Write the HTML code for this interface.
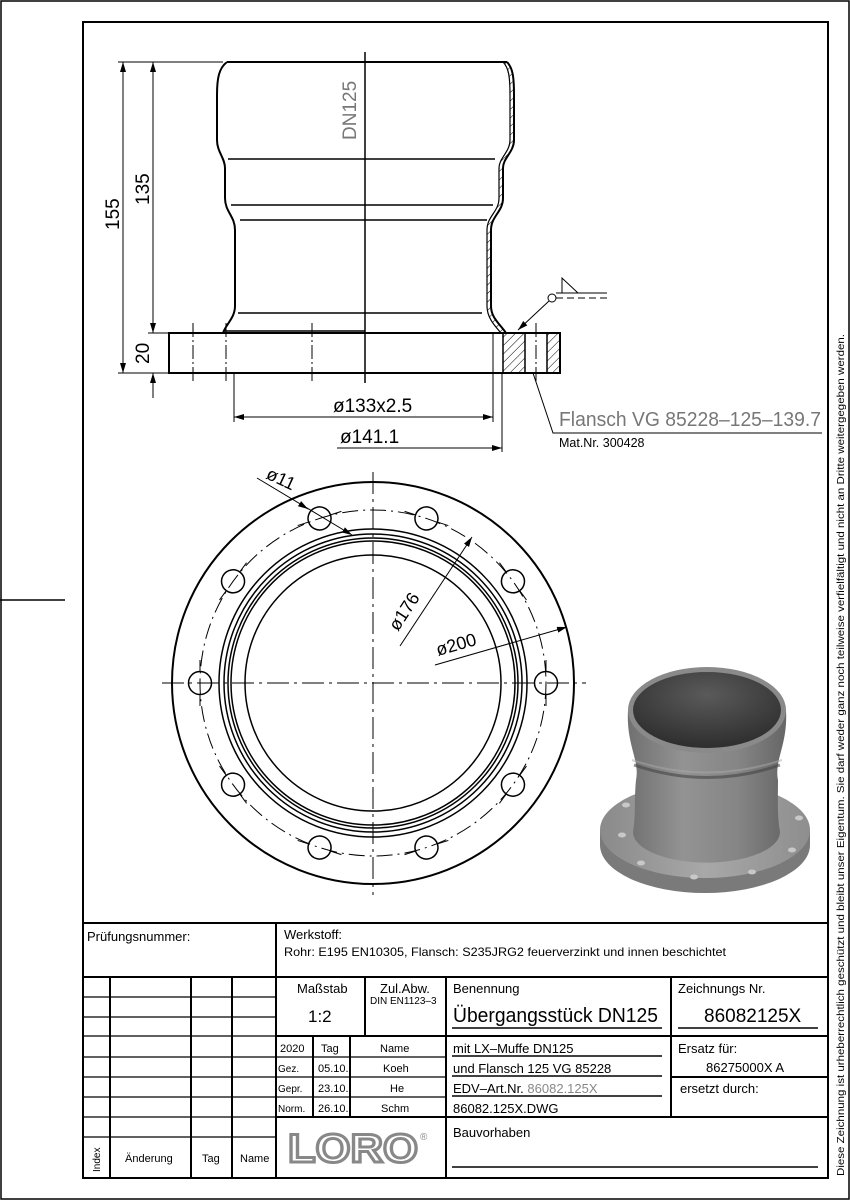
<!DOCTYPE html>
<html><head><meta charset="utf-8"><style>
html,body{margin:0;padding:0;background:#fff}
svg{display:block}
text{font-family:"Liberation Sans",sans-serif}
</style></head><body>
<svg width="850" height="1200" viewBox="0 0 850 1200" xmlns="http://www.w3.org/2000/svg">
<defs>
<pattern id="h" width="6" height="6" patternUnits="userSpaceOnUse" patternTransform="rotate(45)"><line x1="0" y1="0" x2="0" y2="6" stroke="#000" stroke-width="1"/></pattern>
<marker id="a" viewBox="0 0 10 6" refX="10" refY="3" markerWidth="10" markerHeight="6" orient="auto-start-reverse" markerUnits="userSpaceOnUse"><path d="M0,0 L10,3 L0,6z" fill="#000"/></marker>
<radialGradient id="g1" cx="0.5" cy="0.3" r="0.7"><stop offset="0" stop-color="#5a5a5a"/><stop offset="1" stop-color="#2e2e2e"/></radialGradient>
<linearGradient id="g2" x1="0" x2="1"><stop offset="0" stop-color="#707070"/><stop offset="0.35" stop-color="#939393"/><stop offset="0.7" stop-color="#858585"/><stop offset="1" stop-color="#666"/></linearGradient>
<linearGradient id="g3" x1="0" x2="1"><stop offset="0" stop-color="#8a8a8a"/><stop offset="0.5" stop-color="#a8a8a8"/><stop offset="1" stop-color="#8e8e8e"/></linearGradient>
</defs>
<rect x="1" y="1" width="848" height="1198" fill="none" stroke="#000" stroke-width="1.5"/>
<rect x="83" y="22" width="745" height="1156" fill="none" stroke="#000" stroke-width="2"/>
<line x1="0" y1="600" x2="65" y2="600" stroke="#000" stroke-width="1.5"/>

<!-- side view -->
<g fill="none" stroke="#000">
<line x1="118" y1="62" x2="223" y2="62" stroke-width="1"/>
<line x1="118" y1="373" x2="169" y2="373" stroke-width="1"/>
<line x1="148" y1="333" x2="169" y2="333" stroke-width="1"/>
<line x1="123" y1="62" x2="123" y2="373" stroke-width="1" marker-start="url(#a)" marker-end="url(#a)"/>
<line x1="153" y1="62" x2="153" y2="333" stroke-width="1" marker-start="url(#a)" marker-end="url(#a)"/>
<line x1="153" y1="373" x2="153" y2="398" stroke-width="1" marker-start="url(#a)"/>
<path d="M227,62 L507,62" stroke-width="2"/>
<path d="M227,62 C219,68 217,78 217,95 L217,140 C217,152 225,158 225,168 L225,198 C225,212 235,216 235,230 L235,306 C235,318 226,324 223,333" stroke-width="2"/>
<path d="M507,62 C513,68 514,78 514,95 L514,140 C514,152 503,158 503,168 L503,198 C503,212 491,216 491,230 L491,306 C491,318 500,324 506,333" stroke-width="2"/>
<path d="M503,62 C509,68 510,78 510,95 L510,140 C510,152 499,158 499,168 L499,198 C499,212 487,216 487,230 L487,306 C487,318 495,326 501,333" stroke-width="1.2"/>
<path d="M503,62 C509,68 510,78 510,95 L510,140 C510,152 499,158 499,168 L499,198 C499,212 487,216 487,230 L487,306 C487,318 495,326 501,333 L506,333 C500,324 491,318 491,306 L491,230 C491,216 503,212 503,198 L503,168 C503,158 514,152 514,140 L514,95 C514,78 513,68 507,62z" fill="url(#h)" stroke="none"/>
<line x1="228" y1="159" x2="495" y2="159" stroke-width="1.5"/>
<line x1="231" y1="205" x2="493" y2="205" stroke-width="1.5"/>
<line x1="240" y1="220" x2="487" y2="220" stroke-width="1.5"/>
<line x1="238" y1="313" x2="482" y2="313" stroke-width="1.5"/>
<line x1="223" y1="331" x2="365" y2="331" stroke-width="1.5"/>
<rect x="169" y="333" width="391" height="40" stroke-width="2"/>
<rect x="503" y="333" width="22" height="40" fill="url(#h)" stroke-width="1.5"/>
<rect x="547" y="333" width="13" height="40" fill="url(#h)" stroke-width="1.5"/>
<line x1="365" y1="52" x2="365" y2="383" stroke-width="1.5"/>
<line x1="193" y1="323" x2="193" y2="383" stroke-width="1" stroke-dasharray="14,3,2,3"/>
<line x1="226" y1="323" x2="226" y2="383" stroke-width="1" stroke-dasharray="14,3,2,3"/>
<line x1="312" y1="323" x2="312" y2="383" stroke-width="1" stroke-dasharray="14,3,2,3"/>
<line x1="536" y1="323" x2="536" y2="383" stroke-width="1" stroke-dasharray="14,3,2,3"/>
<line x1="234" y1="373" x2="234" y2="422" stroke-width="1"/>
<line x1="493" y1="333" x2="493" y2="422" stroke-width="1"/>
<line x1="502" y1="373" x2="502" y2="452" stroke-width="1"/>
<line x1="234" y1="417" x2="493" y2="417" stroke-width="1" marker-start="url(#a)" marker-end="url(#a)"/>
<line x1="337" y1="448" x2="502" y2="448" stroke-width="1" marker-end="url(#a)"/>
<circle cx="552" cy="298" r="4" stroke-width="1"/>
<line x1="556" y1="298" x2="607" y2="298" stroke-width="1" stroke-dasharray="7,4"/>
<line x1="556" y1="293" x2="607" y2="293" stroke-width="1"/>
<path d="M562,293 L562,278 L578,293" stroke-width="1"/>
<line x1="549" y1="301" x2="518" y2="330" stroke-width="1" marker-end="url(#a)"/>
<path d="M533,373 L553,433 L822,433" stroke-width="1"/>
</g>
<g font-size="19">
<text transform="translate(119,230) rotate(-90)">155</text>
<text transform="translate(149,205) rotate(-90)">135</text>
<text transform="translate(149,364) rotate(-90)">20</text>
<text transform="translate(356,140) rotate(-90)" fill="#777">DN125</text>
<text x="333" y="412">ø133x2.5</text>
<text x="340" y="443">ø141.1</text>
</g>
<text x="559" y="426" font-size="20" fill="#777" textLength="262" lengthAdjust="spacingAndGlyphs">Flansch VG 85228–125–139.7</text>
<text x="559" y="447" font-size="12.5">Mat.Nr. 300428</text>

<!-- round view -->
<g fill="none" stroke="#000" stroke-width="1.5">
<circle cx="373" cy="683" r="201" stroke-width="2"/>
<circle cx="373" cy="683" r="154"/>
<circle cx="373" cy="683" r="149"/>
<circle cx="373" cy="683" r="145"/>
<circle cx="373" cy="683" r="142"/>
<circle cx="373" cy="683" r="128"/>
<circle cx="373" cy="683" r="173" stroke-width="1" stroke-dasharray="16,5,2,5"/>
<line x1="162" y1="683" x2="586" y2="683" stroke-width="1" stroke-dasharray="22,5,3,5"/>
<line x1="373" y1="472" x2="373" y2="895" stroke-width="1" stroke-dasharray="22,5,3,5"/>
<g id="hole">
<circle cx="546" cy="683" r="11.5"/>
<line x1="546" y1="671" x2="546" y2="660" stroke-width="1"/><line x1="546" y1="695" x2="546" y2="706" stroke-width="1"/>
</g>
<use href="#hole" transform="rotate(36 373 683)"/>
<use href="#hole" transform="rotate(72 373 683)"/>
<use href="#hole" transform="rotate(108 373 683)"/>
<use href="#hole" transform="rotate(144 373 683)"/>
<use href="#hole" transform="rotate(180 373 683)"/>
<use href="#hole" transform="rotate(216 373 683)"/>
<use href="#hole" transform="rotate(252 373 683)"/>
<use href="#hole" transform="rotate(288 373 683)"/>
<use href="#hole" transform="rotate(324 373 683)"/>
<line x1="257" y1="478" x2="352" y2="535" stroke-width="1" marker-end="url(#a)"/>
<line x1="300" y1="504" x2="308" y2="509" stroke-width="1" marker-end="url(#a)"/>
<line x1="400" y1="646" x2="472" y2="537" stroke-width="1" marker-end="url(#a)"/>
<line x1="435" y1="665" x2="567" y2="627" stroke-width="1" marker-end="url(#a)"/>
</g>
<g font-size="18">
<text transform="translate(265,478) rotate(25)">ø11</text>
<text transform="translate(398,632) rotate(-57)">ø176</text>
<text transform="translate(438,656) rotate(-16)">ø200</text>
</g>

<!-- 3D render -->
<g>
<path d="M600,830 L600,845 A105,48 0 0 0 810,845 L810,830z" fill="#7a7a7a"/>
<ellipse cx="705" cy="830" rx="105" ry="48" fill="url(#g3)"/>
<path d="M628,710 C626,745 640,760 636,780 C634,800 636,815 633,832 A72,30 0 0 0 780,832 C777,815 778,800 778,780 C774,760 788,745 786,710z" fill="url(#g2)"/>
<path d="M634,765 Q707,790 780,765" stroke="#444" stroke-width="3" fill="none" opacity="0.6"/>
<path d="M632,760 Q707,785 782,760" stroke="#aaa" stroke-width="2" fill="none" opacity="0.5"/>
<ellipse cx="707" cy="710" rx="79" ry="43" fill="#8a8a8a"/>
<ellipse cx="707" cy="710" rx="74" ry="38" fill="url(#g1)"/>
<g fill="#c8c8c8"><ellipse cx="622" cy="835" rx="4" ry="2.5"/><ellipse cx="641" cy="863" rx="4" ry="2.5"/><ellipse cx="694" cy="877" rx="4" ry="2.5"/><ellipse cx="752" cy="872" rx="4" ry="2.5"/><ellipse cx="792" cy="850" rx="4" ry="2.5"/><ellipse cx="799" cy="818" rx="4" ry="2.5"/><ellipse cx="626" cy="805" rx="4" ry="2.5"/></g>
</g>

<!-- title block -->
<g fill="none" stroke="#000" stroke-width="2">
<line x1="83" y1="923" x2="828" y2="923"/>
<line x1="83" y1="977" x2="828" y2="977"/>
<line x1="276" y1="923" x2="276" y2="1178"/>
<line x1="110" y1="977" x2="110" y2="1178"/>
<line x1="191" y1="977" x2="191" y2="1178"/>
<line x1="232" y1="977" x2="232" y2="1178"/>
<line x1="365" y1="977" x2="365" y2="1036"/>
<line x1="446" y1="977" x2="446" y2="1178"/>
<line x1="671" y1="977" x2="671" y2="1117"/>
<line x1="313" y1="1036" x2="313" y2="1117"/>
<line x1="350" y1="1036" x2="350" y2="1117"/>
<line x1="276" y1="1036" x2="828" y2="1036"/>
<line x1="276" y1="1117" x2="828" y2="1117"/>
<line x1="671" y1="1077" x2="828" y2="1077"/>
</g>
<g stroke="#000" stroke-width="1.2">
<line x1="83" y1="997" x2="276" y2="997"/><line x1="83" y1="1017" x2="276" y2="1017"/><line x1="83" y1="1036" x2="276" y2="1036"/>
<line x1="83" y1="1057" x2="446" y2="1057"/><line x1="83" y1="1077" x2="446" y2="1077"/><line x1="83" y1="1097" x2="446" y2="1097"/><line x1="83" y1="1117" x2="276" y2="1117"/><line x1="83" y1="1137" x2="276" y2="1137"/>
<line x1="452" y1="1028" x2="662" y2="1028" stroke-width="1.5"/><line x1="678" y1="1028" x2="818" y2="1028" stroke-width="1.5"/>
<line x1="452" y1="1056" x2="662" y2="1056" stroke-width="1.5"/><line x1="452" y1="1076" x2="662" y2="1076" stroke-width="1.5"/><line x1="452" y1="1096" x2="662" y2="1096" stroke-width="1.5"/>
<line x1="452" y1="1167" x2="818" y2="1167" stroke-width="1.5"/>
</g>
<g font-size="13">
<text x="87" y="941">Prüfungsnummer:</text>
<text x="284" y="939">Werkstoff:</text>
<text x="284" y="956" font-size="12" textLength="442" lengthAdjust="spacingAndGlyphs">Rohr: E195 EN10305, Flansch: S235JRG2 feuerverzinkt und innen beschichtet</text>
<text x="297" y="993">Maßstab</text>
<text x="308" y="1022" font-size="17">1:2</text>
<text x="380" y="993">Zul.Abw.</text>
<text x="370" y="1004" font-size="10">DIN EN1123–3</text>
<text x="453" y="993">Benennung</text>
<text x="453" y="1022" font-size="20" textLength="205" lengthAdjust="spacingAndGlyphs">Übergangsstück DN125</text>
<text x="678" y="993">Zeichnungs Nr.</text>
<text x="704" y="1022" font-size="19">86082125X</text>
<text x="280" y="1052" font-size="11">2020</text>
<text x="321" y="1052" font-size="11">Tag</text>
<text x="380" y="1052" font-size="11">Name</text>
<text x="278" y="1072" font-size="10">Gez.</text><text x="318" y="1072" font-size="11">05.10.</text><text x="383" y="1072" font-size="11">Koeh</text>
<text x="278" y="1092" font-size="10">Gepr.</text><text x="318" y="1092" font-size="11">23.10.</text><text x="390" y="1092" font-size="11">He</text>
<text x="278" y="1112" font-size="10">Norm.</text><text x="318" y="1112" font-size="11">26.10.</text><text x="381" y="1112" font-size="11">Schm</text>
<text x="453" y="1053">mit LX–Muffe DN125</text>
<text x="453" y="1073">und Flansch 125 VG 85228</text>
<text x="453" y="1093">EDV–Art.Nr. <tspan fill="#888">86082.125X</tspan></text>
<text x="453" y="1113">86082.125X.DWG</text>
<text x="678" y="1053">Ersatz für:</text>
<text x="706" y="1072">86275000X A</text>
<text x="680" y="1093">ersetzt durch:</text>
<text x="453" y="1137">Bauvorhaben</text>
<text x="125" y="1162" font-size="11">Änderung</text>
<text x="202" y="1162" font-size="11">Tag</text>
<text x="240" y="1162" font-size="11">Name</text>
<text transform="translate(100,1172) rotate(-90)" font-size="10">Index</text>
</g>
<text x="288" y="1162" font-size="40" font-weight="bold" fill="#fff" stroke="#888" stroke-width="3" textLength="130" lengthAdjust="spacingAndGlyphs">LORO</text>
<text x="420" y="1140" font-size="10" fill="#888">®</text>
<text transform="translate(844,1176) rotate(-90)" font-size="10.5" textLength="842" lengthAdjust="spacingAndGlyphs">Diese Zeichnung ist urheberrechtlich geschützt und bleibt unser Eigentum. Sie darf weder ganz noch teilweise verfielfältigt und nicht an Dritte weitergegeben werden.</text>
</svg>
</body></html>
